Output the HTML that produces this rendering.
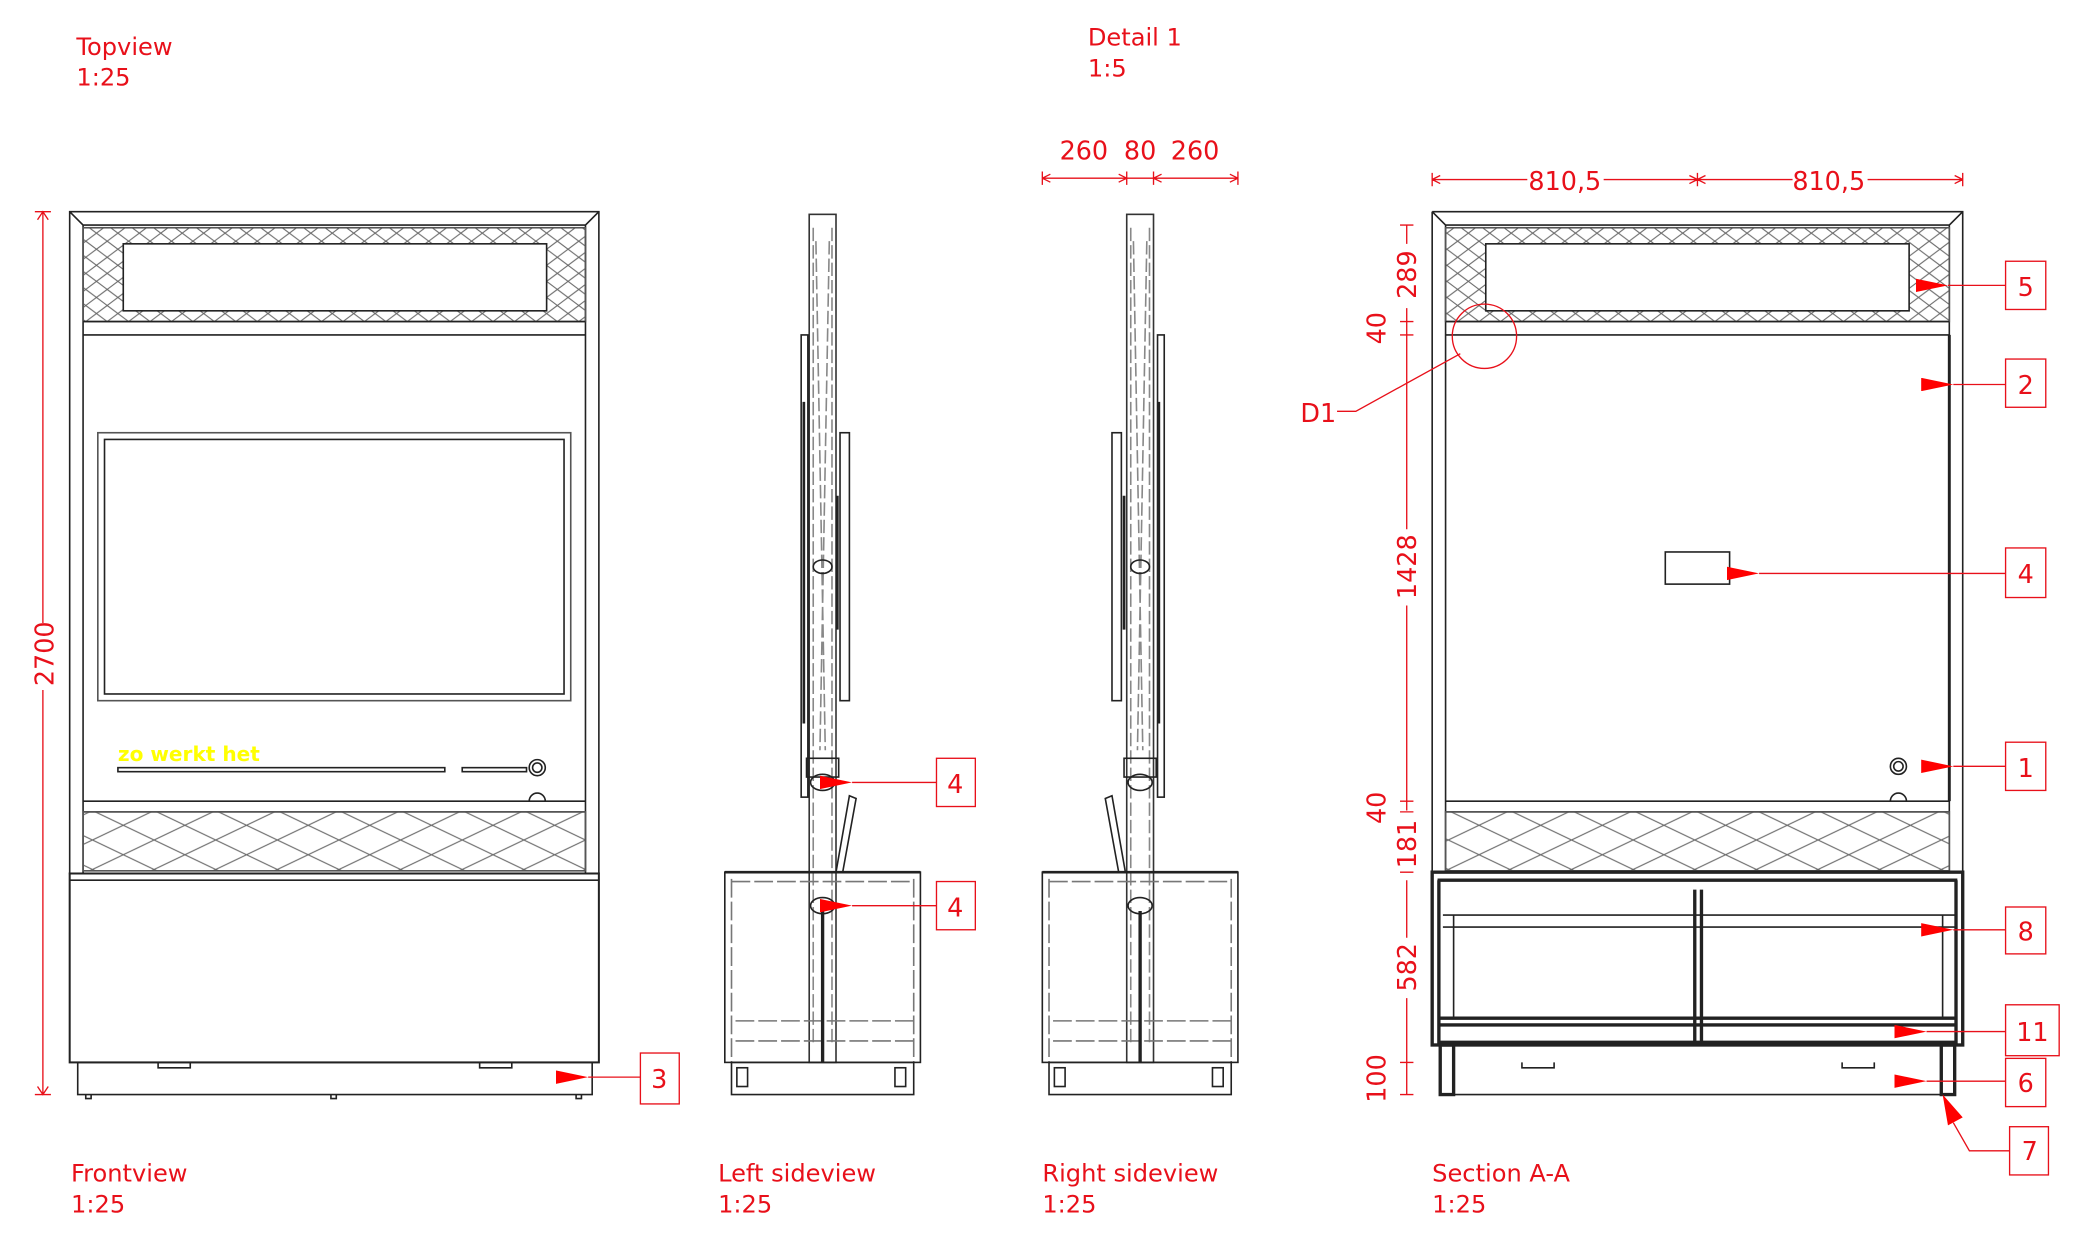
<!DOCTYPE html>
<html><head><meta charset="utf-8"><style>
html,body{margin:0;padding:0;background:#fff;}
svg{display:block;}
text{font-family:"DejaVu Sans","Liberation Sans",sans-serif;}
.r{fill:#e8101a;font-size:18px;}
.d{fill:#e8101a;font-size:19px;}
</style></head><body>
<svg width="2090" height="1258" viewBox="0 0 1560 939" xmlns="http://www.w3.org/2000/svg">
<defs>
<pattern id="hs" width="16" height="12" patternUnits="userSpaceOnUse">
<path d="M0 0L16 12M16 0L0 12" stroke="#666" stroke-width="0.8"/></pattern>
<pattern id="hb" width="46" height="22" patternUnits="userSpaceOnUse">
<path d="M0 0L46 22M46 0L0 22" stroke="#666" stroke-width="0.8"/></pattern>
<marker id="ar" markerWidth="24" markerHeight="10" refX="0" refY="5" orient="auto" markerUnits="userSpaceOnUse"><path d="M24 0L0 5L24 10z" fill="#f00"/></marker>
</defs>
<g fill="none" stroke="#222" stroke-width="1.2">
<!-- FRONT VIEW -->
<rect x="52" y="158" width="395" height="494"/>
<path d="M52 158L62 168H437L447 158M62 168V652M437 168V652"/>
<rect x="62" y="170" width="375" height="70" fill="url(#hs)" stroke="#555"/>
<rect x="92" y="182" width="316" height="50" fill="#fff"/>
<path d="M62 240H437M62 250H437M62 598H437M62 606H437"/>
<rect x="62" y="606" width="375" height="44" fill="url(#hb)" stroke="#555"/>
<rect x="73" y="323" width="353" height="200" stroke="#555"/>
<rect x="78" y="328" width="343" height="190"/>
<rect x="88" y="573" width="244" height="3"/>
<rect x="345" y="573" width="48" height="3"/>
<circle cx="401" cy="573" r="6"/><circle cx="401" cy="573" r="3.5"/>
<path d="M395 598A6 6 0 0 1 407 598"/>
<rect x="52" y="652" width="395" height="141" stroke-width="1.5"/>
<path d="M52 657H447"/>
<rect x="58" y="793" width="384" height="24"/>
<path d="M118 793v4h24v-4M358 793v4h24v-4M64 817v3h4v-3M247 817v3h4v-3M430 817v3h4v-3"/>
<!-- LEFT SIDE VIEW -->
<rect x="604" y="160" width="20" height="633" stroke="#333"/>
<path d="M607 170V780M621 170V780M609 180L616 560M619 180L612 560" stroke="#888" stroke-dasharray="10 3"/>
<rect x="598" y="250" width="5" height="345"/>
<rect x="627" y="323" width="7" height="200"/>
<path d="M625 370v100M600 300v240" stroke-width="2"/>
<rect x="602" y="566" width="24" height="14"/>
<ellipse cx="614" cy="584" rx="9" ry="6"/><ellipse cx="614" cy="676" rx="9" ry="6"/>
<ellipse cx="614" cy="423" rx="7" ry="5"/>
<path d="M624 651L634 594L639 596L629 651"/>
<rect x="541" y="651" width="146" height="142"/>
<path d="M541 651H687" stroke-width="2"/>
<path d="M546 656V793M682 656V793M546 658H682M549 762H682M549 777H682" stroke="#777" stroke-dasharray="14 3"/>
<path d="M614 680V793" stroke-width="2.5"/>
<rect x="546" y="793" width="136" height="24"/>
<rect x="550" y="797" width="8" height="14"/><rect x="668" y="797" width="8" height="14"/>
<!-- RIGHT SIDE VIEW -->
<rect x="841" y="160" width="20" height="633" stroke="#333"/>
<path d="M844 170V780M858 170V780M846 180L853 560M856 180L849 560" stroke="#888" stroke-dasharray="10 3"/>
<rect x="864" y="250" width="5" height="345"/>
<rect x="830" y="323" width="7" height="200"/>
<path d="M839 370v100M865 300v240" stroke-width="2"/>
<rect x="839" y="566" width="24" height="14"/>
<ellipse cx="851" cy="584" rx="9" ry="6"/><ellipse cx="851" cy="676" rx="9" ry="6"/>
<ellipse cx="851" cy="423" rx="7" ry="5"/>
<path d="M840 651L830 594L825 596L835 651"/>
<rect x="778" y="651" width="146" height="142"/>
<path d="M778 651H924" stroke-width="2"/>
<path d="M783 656V793M919 656V793M783 658H919M786 762H919M786 777H919" stroke="#777" stroke-dasharray="14 3"/>
<path d="M851 680V793" stroke-width="2.5"/>
<rect x="783" y="793" width="136" height="24"/>
<rect x="787" y="797" width="8" height="14"/><rect x="905" y="797" width="8" height="14"/>
<!-- SECTION A-A -->
<path d="M1069 158H1465V651M1069 158V651M1069 158L1079 168H1455L1465 158M1079 168V651M1455 168V651"/>
<rect x="1079" y="170" width="376" height="70" fill="url(#hs)" stroke="#555"/>
<rect x="1109" y="182" width="316" height="50" fill="#fff"/>
<path d="M1079 240H1455M1079 250H1455M1079 598H1455M1079 606H1455"/>
<path d="M1455 250V598" stroke-width="2.2"/>
<rect x="1079" y="606" width="376" height="44" fill="url(#hb)" stroke="#555"/>
<rect x="1243" y="412" width="48" height="24"/>
<circle cx="1417" cy="572" r="6"/><circle cx="1417" cy="572" r="3.5"/>
<path d="M1411 598A6 6 0 0 1 1423 598"/>
<g stroke-width="2.5">
<rect x="1069" y="651" width="396" height="129"/>
<path d="M1073 657H1461M1074 657V780M1460 657V780M1265 664V780M1270 664V780M1073 760H1461M1073 765H1461M1073 778H1461"/>
<rect x="1075" y="780" width="10" height="37"/><rect x="1449" y="780" width="10" height="37"/>
</g>
<path d="M1077 683H1459M1077 692H1459M1085 683V760M1450 683V760M1075 817H1459M1085 790V817"/>
<path d="M1136 793v4h24v-4M1375 793v4h24v-4"/>
</g>
<!-- yellow -->
<text x="88" y="568" style="fill:#ff0;font-size:15px;font-weight:bold">zo werkt het</text>
<!-- RED ANNOTATIONS -->
<g stroke="#e8101a" stroke-width="1" fill="none">
<path d="M32 158V465M32 515V817M26 158H38M26 817H38M28 164L32 158L36 164M28 811L32 817L36 811"/>
<path d="M778 133H924M778 128V138M841 128V138M861 128V138M924 128V138M778 133l6-3M778 133l6 3M841 133l-6-3M841 133l-6 3M861 133l6-3M861 133l6 3M924 133l-6-3M924 133l-6 3"/>
<path d="M1069 134H1140M1197 134H1338M1394 134H1465M1069 129V139M1267 129V139M1465 129V139M1069 134l6-3M1069 134l6 3M1267 134l-6-3M1267 134l-6 3M1267 134l6-3M1267 134l6 3M1465 134l-6-3M1465 134l-6 3"/>
<path d="M1050 168V182M1050 230V395M1050 452V605M1050 657V700M1050 745V817M1045 168H1055M1045 240H1055M1045 250H1055M1045 598H1055M1045 606H1055M1045 651H1055M1045 793H1055M1045 817H1055"/>
<circle cx="1108" cy="251" r="24"/>
<path d="M1090 264L1012 307H998"/>
<rect x="478" y="786" width="29" height="38"/>
<path d="M478 804H439" marker-end="url(#ar)"/>
<rect x="699" y="566" width="29" height="36"/><path d="M699 584H636" marker-end="url(#ar)"/>
<rect x="699" y="658" width="29" height="36"/><path d="M699 676H636" marker-end="url(#ar)"/>
<rect x="1497" y="195" width="30" height="36"/><path d="M1497 213H1454" marker-end="url(#ar)"/>
<rect x="1497" y="268" width="30" height="36"/><path d="M1497 287H1458" marker-end="url(#ar)"/>
<rect x="1497" y="409" width="30" height="37"/><path d="M1497 428H1313" marker-end="url(#ar)"/>
<rect x="1497" y="554" width="30" height="36"/><path d="M1497 572H1458" marker-end="url(#ar)"/>
<rect x="1497" y="677" width="30" height="35"/><path d="M1497 694H1458" marker-end="url(#ar)"/>
<rect x="1497" y="750" width="40" height="38"/><path d="M1497 770H1438" marker-end="url(#ar)"/>
<rect x="1497" y="790" width="30" height="36"/><path d="M1497 807H1438" marker-end="url(#ar)"/>
<rect x="1500" y="841" width="29" height="36"/><path d="M1500 859H1470L1458 838"/>
</g>
<path d="M1450 817L1465 834L1454 840z" fill="#f00"/>
<g class="r">
<text x="57" y="41">Topview</text><text x="57" y="64">1:25</text>
<text x="812" y="34">Detail 1</text><text x="812" y="57">1:5</text>
<text x="53" y="882">Frontview</text><text x="53" y="905">1:25</text>
<text x="536" y="882">Left sideview</text><text x="536" y="905">1:25</text>
<text x="778" y="882">Right sideview</text><text x="778" y="905">1:25</text>
<text x="1069" y="882">Section A-A</text><text x="1069" y="905">1:25</text>
</g>
<g class="d" text-anchor="middle">
<text x="809" y="119">260</text><text x="851" y="119">80</text><text x="892" y="119">260</text>
<text x="1168" y="142">810,5</text>
<text x="1365" y="142">810,5</text>
<text x="984" y="315">D1</text>
<text x="492" y="812">3</text>
<text x="713" y="592">4</text><text x="713" y="684">4</text>
<text x="1512" y="221">5</text><text x="1512" y="294">2</text><text x="1512" y="435">4</text>
<text x="1512" y="580">1</text><text x="1512" y="702">8</text><text x="1517" y="777">11</text>
<text x="1512" y="815">6</text><text x="1515" y="866">7</text>
<text transform="translate(40 488) rotate(-90)">2700</text>
<text transform="translate(1057 205) rotate(-90)">289</text>
<text transform="translate(1034 245) rotate(-90)">40</text>
<text transform="translate(1057 423) rotate(-90)">1428</text>
<text transform="translate(1034 603) rotate(-90)">40</text>
<text transform="translate(1057 630) rotate(-90)">181</text>
<text transform="translate(1057 722) rotate(-90)">582</text>
<text transform="translate(1034 805) rotate(-90)">100</text>
</g>
</svg>
</body></html>
